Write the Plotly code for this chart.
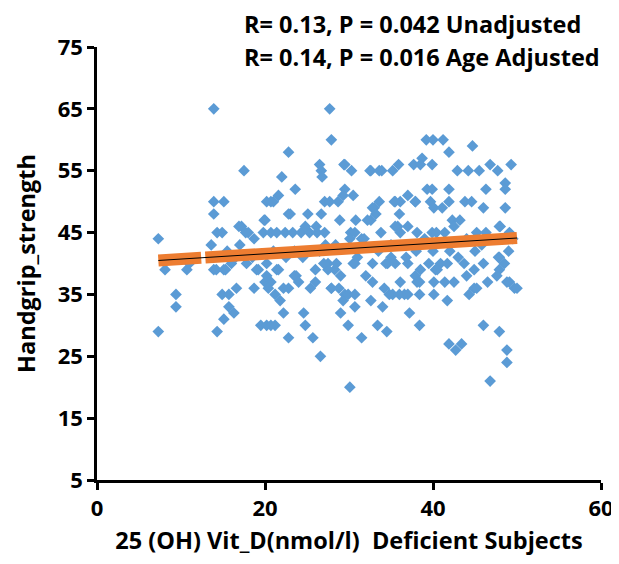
import plotly.graph_objects as go

# Scatter data: 25(OH) Vit D (x) vs handgrip strength (y)
vitd = [7.3, 7.3, 8.1, 9.4, 9.4, 10.7, 11.0,
        13.9, 13.9, 13.9, 15.1, 13.6, 14.3, 14.9, 13.9, 15.3, 16.0, 14.2, 15.1, 14.9, 15.7, 15.7, 16.3, 15.1, 14.3,
        16.6, 17.2, 17.5, 16.9, 17.7, 18.0, 18.7, 18.7, 19.0, 20.0, 19.8, 20.0, 19.5, 20.2, 21.2, 15.5, 16.5, 17.8,
        20.2, 20.7, 21.6, 21.0, 22.0, 22.8, 23.6, 19.9, 22.8, 23.0, 25.1, 20.7, 21.4, 22.4, 23.3, 24.3, 25.3, 26.2,
        27.1, 24.8, 26.1, 20.2, 21.4, 23.7, 20.7, 22.2, 25.4, 20.4, 21.2, 21.8, 22.8, 23.5, 24.0, 19.2, 20.2, 21.6,
        22.2, 24.6, 20.7, 24.8, 25.7, 22.8, 26.6, 22.5, 23.5, 24.5, 21.0, 18.5, 17.0,
        27.7, 27.9, 26.7, 26.5, 26.8, 29.4, 30.3, 29.5, 29.5, 29.3, 27.1, 27.7, 28.7, 30.5, 26.7, 28.9, 30.8, 30.2,
        30.7, 31.5, 27.2, 30.1, 28.4, 27.5, 28.3, 26.0, 27.5, 28.5, 30.5, 30.7, 26.0, 27.9, 28.8, 27.9, 29.5, 29.3,
        29.0, 29.9, 29.9, 30.7, 30.7, 31.5, 30.1, 27.0, 26.5, 29.0, 31.0,
        32.6, 33.9, 35.2, 35.9, 32.5, 33.6, 32.8, 33.6, 33.0, 32.6, 33.2, 32.2, 33.8, 35.4, 36.1, 35.5, 35.8, 36.0,
        35.5, 36.1, 32.8, 34.6, 34.4, 35.5, 35.0, 32.8, 32.6, 35.2, 34.8, 36.0, 33.4, 34.5, 34.0, 36.1, 36.6, 32.0,
        33.5, 35.0, 31.8, 34.2,
        37.7, 38.7, 38.5, 39.9, 39.2, 40.0, 41.2, 41.9, 37.0, 37.9, 39.3, 39.9, 39.7, 40.1, 41.1, 41.9, 41.9, 37.9,
        38.1, 39.9, 40.4, 41.4, 42.3, 37.0, 37.0, 37.9, 38.4, 39.5, 40.9, 41.7, 40.3, 38.5, 40.5, 38.1, 40.1, 41.4,
        40.1, 41.7, 38.4, 37.0, 37.2, 38.4, 41.9, 38.0, 40.0, 42.0, 39.0, 36.8,
        42.9, 44.2, 45.5, 47.7, 44.7, 46.8, 49.3, 48.6, 48.6, 46.3, 43.8, 44.6, 46.0, 48.6, 42.5, 45.2, 46.3, 47.9,
        49.1, 48.0, 44.0, 43.7, 44.9, 46.0, 47.8, 47.9, 49.1, 49.7, 44.9, 44.3, 45.2, 47.6, 48.8, 47.9, 43.4, 42.7,
        46.0, 47.9, 48.8, 48.8, 46.8, 43.0, 45.0, 49.0, 48.5, 44.0, 46.5, 42.5, 49.5, 50.0, 45.8, 43.2]
handgrip = [44, 29, 39, 35, 33, 39, 40,
            65, 50, 48, 50, 43, 45, 45, 39, 39, 40, 39, 39, 35, 35, 33, 32, 31, 29,
            36, 46, 55, 46, 45, 45, 44, 36, 39, 47, 45, 37, 30, 30, 30, 42, 41, 40,
            50, 50, 51, 50, 54, 58, 52, 47, 48, 48, 48, 45, 45, 45, 45, 45, 45, 45,
            45, 46, 46, 40, 39, 38, 37, 36, 36, 36, 35, 34, 36, 38, 37, 39, 38, 39,
            32, 32, 30, 30, 28, 28, 25, 41, 42, 41, 42, 41, 43,
            65, 60, 55, 56, 54, 56, 55, 56, 52, 51, 50, 50, 50, 51, 48, 47, 47, 45,
            45, 44, 43, 44, 43, 40, 39, 39, 39, 40, 40, 40, 37, 36, 36, 36, 35, 34,
            32, 30, 35, 35, 33, 28, 20, 40, 42, 38, 41,
            55, 55, 55, 56, 55, 55, 49, 50, 49, 47, 48, 47, 45, 50, 50, 50, 46, 48,
            46, 45, 40, 40, 40, 40, 41, 37, 34, 35, 35, 35, 30, 29, 33, 37, 35, 38,
            42, 43, 44, 36,
            56, 57, 56, 56, 60, 60, 60, 58, 51, 50, 52, 52, 50, 49, 49, 52, 50, 50,
            45, 45, 45, 45, 47, 46, 40, 38, 37, 40, 40, 40, 39, 39, 39, 37, 37, 37,
            35, 34, 35, 35, 32, 30, 27, 42, 42, 42, 44, 41,
            55, 55, 55, 55, 59, 56, 56, 53, 52, 52, 50, 50, 49, 49, 46, 45, 45, 46,
            45, 46, 44, 40, 39, 40, 41, 39, 37, 36, 36, 35, 36, 38, 37, 41, 27, 26,
            30, 29, 26, 24, 21, 41, 42, 42, 40, 38, 37, 37, 44, 36, 43, 47]

# Fitted regression line parameters
fit_intercept = 39.87
fit_slope = 0.085
fit_segments = [(7.3, 12.4), (12.9, 50.0)]

axis_x_ticks = [0, 20, 40, 60]
axis_y_ticks = [5, 15, 25, 35, 45, 55, 65, 75]

stats_lines = ["R= 0.13, P = 0.042 Unadjusted", "R= 0.14, P = 0.016 Age Adjusted"]
x_title = "25 (OH) Vit_D(nmol/l)  Deficient Subjects"
y_title = "Handgrip_strength"

FONT = "Open Sans"
BLUE = "#5B9BD5"
ORANGE = "#ED7D31"
tick_font = dict(family=FONT, size=22, color="black", weight="bold")
text_font = dict(family=FONT, size=23.5, color="black", weight="bold")

fig = go.Figure()
fig.add_trace(go.Scatter(
    x=vitd, y=handgrip, mode="markers",
    marker=dict(symbol="diamond", size=9, color=BLUE, line=dict(width=0)),
    showlegend=False, hoverinfo="x+y"))

ox, oy = [], []
for a, b in fit_segments:
    ox += [a, b, None]
    oy += [fit_intercept + fit_slope * a, fit_intercept + fit_slope * b, None]
fig.add_trace(go.Scatter(x=ox, y=oy, mode="lines",
                         line=dict(color=ORANGE, width=12),
                         showlegend=False, hoverinfo="skip"))

x0, x1 = fit_segments[0][0], fit_segments[-1][1]
fig.add_trace(go.Scatter(x=[x0, x1],
                         y=[fit_intercept + fit_slope * x0, fit_intercept + fit_slope * x1],
                         mode="lines", line=dict(color="black", width=1),
                         showlegend=False, hoverinfo="skip"))

for text, ypos in zip(stats_lines, [1.053, 0.977]):
    fig.add_annotation(
        text=text, xref="paper", yref="paper", x=0.288, y=ypos,
        xanchor="left", yanchor="middle", align="left", showarrow=False,
        font=text_font)

fig.update_layout(
    width=606, height=548,
    margin=dict(l=89, r=13, t=39, b=76),
    paper_bgcolor="white", plot_bgcolor="white",
    font=text_font,
    xaxis=dict(range=[0, 60], tickvals=axis_x_ticks, showgrid=False, zeroline=False,
               showline=True, linecolor="black", linewidth=2.5, automargin=False,
               ticks="outside", ticklen=7, tickwidth=2.5, tickcolor="black",
               tickfont=tick_font,
               title=dict(text=x_title, standoff=20, font=text_font)),
    yaxis=dict(range=[5, 75], tickvals=axis_y_ticks, showgrid=False, zeroline=False,
               showline=True, linecolor="black", linewidth=2.5, automargin=False,
               ticks="outside", ticklen=7, tickwidth=2.5, tickcolor="black",
               tickfont=tick_font,
               title=dict(text=y_title, standoff=16, font=text_font)),
)

fig.write_html("out.html")
